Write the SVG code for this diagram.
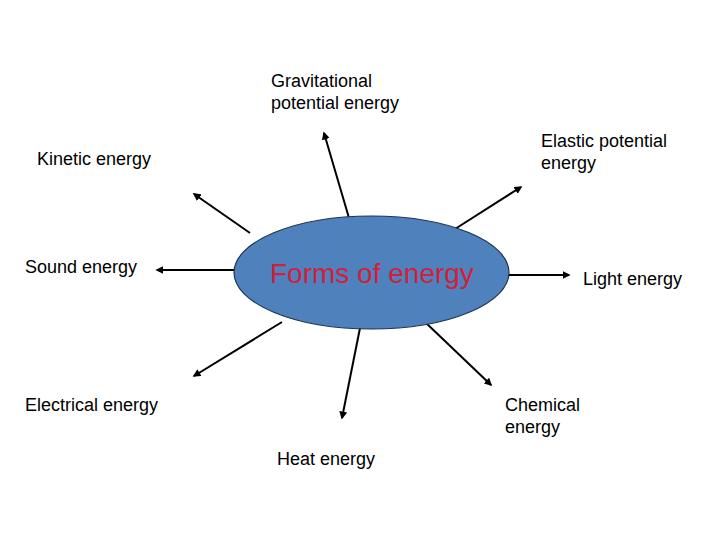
<svg xmlns="http://www.w3.org/2000/svg" width="720" height="540" viewBox="0 0 720 540">
<style>
text{font-family:"Liberation Sans",Arial,sans-serif;font-size:18px;fill:#000}
.c line{stroke:#000;stroke-width:2;marker-end:url(#ah)}
</style>
<defs>
<marker id="ah" viewBox="0 0 10 10" refX="8" refY="5" markerWidth="4" markerHeight="4" orient="auto" markerUnits="strokeWidth">
<path d="M0,0 L10,5 L0,10 z" fill="#000"/>
</marker>
</defs>
<rect width="720" height="540" fill="#fff"/>
<g class="c" id="connectors">
<line x1="349" y1="218" x2="324" y2="133"/>
<line x1="250" y1="233" x2="194" y2="194"/>
<line x1="455" y1="229" x2="521" y2="187"/>
<line x1="236" y1="270" x2="157" y2="270"/>
<line x1="508" y1="275" x2="569" y2="275"/>
<line x1="282" y1="322" x2="194" y2="376"/>
<line x1="360" y1="328" x2="342" y2="418"/>
<line x1="425" y1="322" x2="491" y2="385"/>
</g>
<g id="center">
<ellipse cx="371.5" cy="272.5" rx="137.5" ry="56.5" fill="#4F81BD" stroke="#1F3450" stroke-width="1.2"/>
<text x="270" y="283" style="font-size:28px;fill:#D0203A">Forms of energy</text>
</g>
<g id="gravitational"><text x="271" y="87">Gravitational</text><text x="271" y="109">potential energy</text></g>
<g id="kinetic"><text x="37" y="165">Kinetic energy</text></g>
<g id="elastic"><text x="541" y="147">Elastic potential</text><text x="541" y="169">energy</text></g>
<g id="sound"><text x="25" y="273">Sound energy</text></g>
<g id="light"><text x="583" y="285">Light energy</text></g>
<g id="electrical"><text x="25" y="411">Electrical energy</text></g>
<g id="chemical"><text x="505" y="411">Chemical</text><text x="505" y="433">energy</text></g>
<g id="heat"><text x="277" y="465">Heat energy</text></g>
</svg>
